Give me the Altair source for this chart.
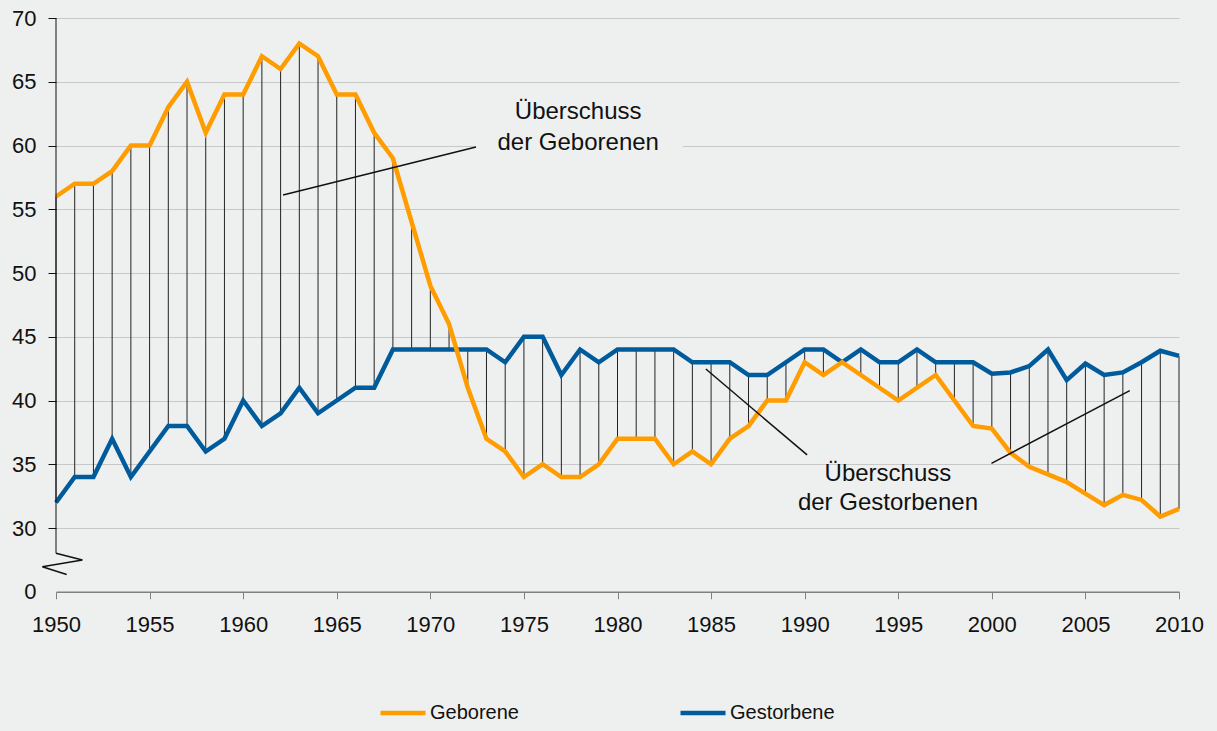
import altair as alt
import pandas as pd

# ---------------- data ----------------
years = list(range(1950, 2011))
geborene = [56, 57, 57, 58, 60, 60, 63, 65, 61, 64,
            64, 67, 66, 68, 67, 64, 64, 61, 59, 54,
            49, 46, 41, 37, 36, 34, 35, 34, 34, 35,
            37, 37, 37, 35, 36, 35, 37, 38, 40, 40,
            43, 42, 43, 42, 41, 40, 41, 42, 40, 38,
            37.8, 35.9, 34.8, 34.2, 33.6, 32.7, 31.8, 32.6, 32.2, 30.9, 31.5]
gestorbene = [32, 34, 34, 37, 34, 36, 38, 38, 36, 37,
              40, 38, 39, 41, 39, 40, 41, 41, 44, 44,
              44, 44, 44, 44, 43, 45, 45, 42, 44, 43,
              44, 44, 44, 44, 43, 43, 43, 42, 42, 43,
              44, 44, 43, 44, 43, 43, 44, 43, 43, 43,
              42.1, 42.2, 42.7, 44.0, 41.6, 42.9, 42.0, 42.2, 43.0, 43.9, 43.5]
series_names = ["Geborene", "Gestorbene"]
series_colors = ["#ff9d00", "#005b9c"]
x_ticks = list(range(1950, 2011, 5))
y_ticks = [25, 30, 35, 40, 45, 50, 55, 60, 65, 70]   # 25 is shown as the broken "0"

annot_text = ["Überschuss", "der Geborenen", "Überschuss", "der Gestorbenen"]
annot_x = [1977.9, 1977.9, 1994.45, 1994.45]
annot_y = [62.05, 59.65, 33.71, 31.41]

pointer_x1 = [1962.13, 1984.72, 1999.98]
pointer_y1 = [56.12, 42.47, 35.07]
pointer_x2 = [1972.44, 1990.13, 2007.37]
pointer_y2 = [59.88, 35.73, 40.77]

# axis break (zigzag) in data units
break_x = [1950.0, 1951.41, 1949.27, 1950.57]
break_y = [28.02, 27.49, 26.96, 26.35]

BG = "#eef0ef"
FONT = "Liberation Sans"

df = pd.DataFrame({"Jahr": years, "Geborene": geborene, "Gestorbene": gestorbene})
long = df.melt("Jahr", var_name="Reihe", value_name="Wert")

xs = alt.Scale(domain=[1950, 2010], nice=False, zero=False)
ys = alt.Scale(domain=[25, 70], nice=False, zero=False)

x_axis = alt.Axis(values=x_ticks, format="d", title=None, grid=False,
                  labelFont=FONT, labelFontSize=22, labelColor="#111111",
                  labelPadding=16, tickSize=7, tickColor="#808080",
                  domainColor="#808080", domainWidth=1.5, labelFlush=False)
y_axis = alt.Axis(values=y_ticks, title=None, domain=False,
                  labelExpr="datum.value == 25 ? '0' : datum.label",
                  labelFont=FONT, labelFontSize=22, labelColor="#111111",
                  labelPadding=12, tickSize=8,
                  tickColor={"condition": {"test": "datum.value == 25", "value": "transparent"},
                             "value": "#111111"},
                  grid=True,
                  gridColor={"condition": {"test": "datum.value == 25", "value": "transparent"},
                             "value": "#c8c8c8"},
                  gridWidth=1)


def X(field):
    return alt.X(field, scale=xs, axis=x_axis)


def Y(field):
    return alt.Y(field, scale=ys, axis=y_axis)


color = alt.Color("Reihe:N",
                  scale=alt.Scale(domain=series_names, range=series_colors),
                  legend=alt.Legend(title=None, orient="none", direction="horizontal",
                                    legendX=322, legendY=670,
                                    symbolType="stroke", symbolSize=2025,
                                    symbolStrokeWidth=4.5, labelOffset=2,
                                    columnPadding=152,
                                    labelFont=FONT, labelFontSize=20,
                                    labelColor="#111111"))

# mask behind first annotation (interrupts the 60 gridline)
mask_df = pd.DataFrame({"x1": [1972.44], "x2": [1983.5], "y1": [59.2], "y2": [63.8]})
mask = alt.Chart(mask_df).mark_rect(fill=BG).encode(
    x=X("x1:Q"), x2="x2:Q", y=Y("y1:Q"), y2="y2:Q")

drops = alt.Chart(df).mark_rule(color="#222222", strokeWidth=1).encode(
    x=X("Jahr:Q"), y=Y("Geborene:Q"), y2="Gestorbene:Q")

line_blue = alt.Chart(long).transform_filter(alt.datum.Reihe == "Gestorbene").mark_line(
    strokeWidth=4.5).encode(x=X("Jahr:Q"), y=Y("Wert:Q"), color=color)
line_orange = alt.Chart(long).transform_filter(alt.datum.Reihe == "Geborene").mark_line(
    strokeWidth=4.5).encode(x=X("Jahr:Q"), y=Y("Wert:Q"), color=color)

ptr_df = pd.DataFrame({"x1": pointer_x1, "y1": pointer_y1, "x2": pointer_x2, "y2": pointer_y2})
pointers = alt.Chart(ptr_df).mark_rule(color="#111111", strokeWidth=1.5).encode(
    x=X("x1:Q"), y=Y("y1:Q"), x2="x2:Q", y2="y2:Q")

txt_df = pd.DataFrame({"t": annot_text, "x": annot_x, "y": annot_y})
texts = alt.Chart(txt_df).mark_text(font=FONT, fontSize=24, align="center",
                                    baseline="alphabetic", color="#111111").encode(
    x=X("x:Q"), y=Y("y:Q"), text="t:N")

yline_df = pd.DataFrame({"x": [1950], "y1": [28.02], "y2": [70]})
yline = alt.Chart(yline_df).mark_rule(color="#111111", strokeWidth=1).encode(
    x=X("x:Q"), y=Y("y1:Q"), y2="y2:Q")

brk_df = pd.DataFrame({"x": break_x, "y": break_y, "o": list(range(len(break_x)))})
brk = alt.Chart(brk_df).mark_line(color="#111111", strokeWidth=1.5).encode(
    x=X("x:Q"), y=Y("y:Q"), order="o:Q")

chart = alt.layer(mask, drops, line_blue, line_orange, pointers, texts, yline, brk).properties(
    width=1123, height=573.75,
    autosize=alt.AutoSizeParams(type="none"),
    padding={"left": 48, "top": 10, "right": 30, "bottom": 131},
    background=BG,
).configure_view(stroke=None)

PAGE_TEMPLATE = """<!DOCTYPE html>
<html>
<head>
  <meta charset="utf-8">
  <style>
    body { background: #eef0ef; }
    #{{ output_div }}.vega-embed { width: 100%; display: flex; }
  </style>
  <script type="text/javascript" src="{{ base_url }}/vega@{{ vega_version }}"></script>
  <script type="text/javascript" src="{{ base_url }}/vega-lite@{{ vegalite_version }}"></script>
  <script type="text/javascript" src="{{ base_url }}/vega-embed@{{ vegaembed_version }}"></script>
</head>
<body>
  <div id="{{ output_div }}"></div>
  <script type="text/javascript">
    var spec = {{ spec }};
    var embedOpt = {{ embed_options }};
    function showError(el, error) {
      el.innerHTML = ('<div style="color:red;"><p>JavaScript Error: ' + error.message + '</p></div>');
      throw error;
    }
    const el = document.getElementById('{{ output_div }}');
    vegaEmbed("#{{ output_div }}", spec, embedOpt).catch(error => showError(el, error));
  </script>
</body>
</html>
"""

try:
    import jinja2
    chart.save("out.html", embed_options={"renderer": "svg", "actions": False},
               template=jinja2.Template(PAGE_TEMPLATE))
except Exception:
    chart.save("out.html", embed_options={"renderer": "svg", "actions": False})
